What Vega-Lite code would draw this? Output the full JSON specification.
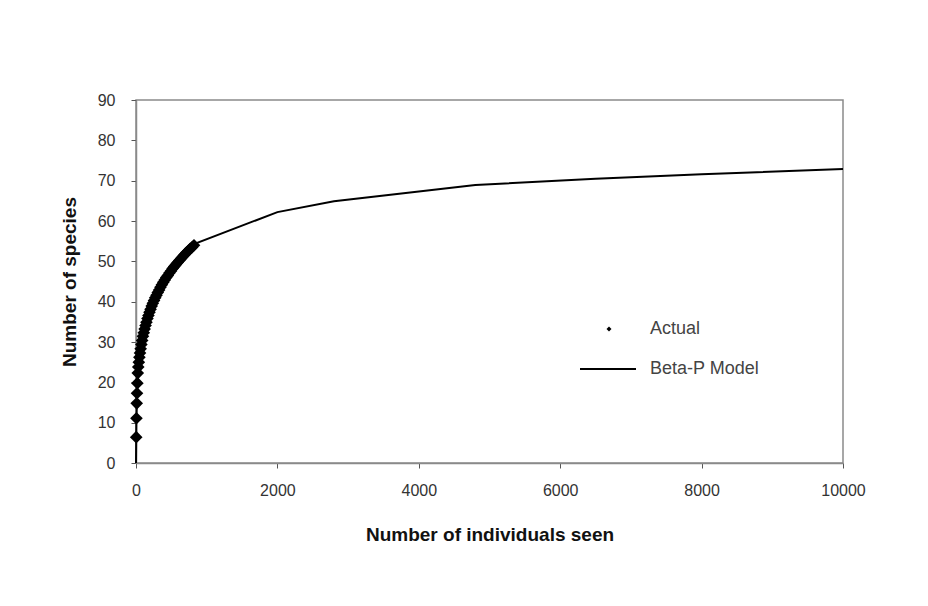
{
  "$schema": "https://vega.github.io/schema/vega-lite/v6.json",
  "width": 707,
  "height": 363,
  "autosize": {"type": "none"},
  "padding": {"left": 136, "top": 100, "right": 85, "bottom": 143},
  "background": "white",
  "config": {
    "font": "Liberation Sans",
    "view": {"stroke": "#8a8a8a", "strokeWidth": 1.5},
    "axis": {
      "grid": false,
      "domainColor": "#8a8a8a",
      "domainWidth": 1.5,
      "tickColor": "#555555",
      "tickSize": 5,
      "labelFont": "Liberation Sans",
      "labelFontSize": 16,
      "labelColor": "#333333",
      "titleFont": "Liberation Sans",
      "titleFontSize": 19,
      "titleFontWeight": "bold",
      "titleColor": "#111111"
    },
    "legend": {
      "labelFont": "Liberation Sans",
      "labelFontSize": 18,
      "labelColor": "#444444",
      "padding": 0
    }
  },
  "datasets": {
    "actual": [
      {"n": 3, "species": 6.4, "series": "Actual"},
      {"n": 6, "species": 11.1, "series": "Actual"},
      {"n": 10, "species": 14.8, "series": "Actual"},
      {"n": 14, "species": 17.3, "series": "Actual"},
      {"n": 19, "species": 19.8, "series": "Actual"},
      {"n": 25, "species": 22.3, "series": "Actual"},
      {"n": 32, "species": 23.8, "series": "Actual"},
      {"n": 40, "species": 25.0, "series": "Actual"},
      {"n": 48, "species": 26.2, "series": "Actual"},
      {"n": 57, "species": 27.3, "series": "Actual"},
      {"n": 66, "species": 28.3, "series": "Actual"},
      {"n": 76, "species": 29.4, "series": "Actual"},
      {"n": 87, "species": 30.4, "series": "Actual"},
      {"n": 98, "species": 31.4, "series": "Actual"},
      {"n": 110, "species": 32.3, "series": "Actual"},
      {"n": 122, "species": 33.2, "series": "Actual"},
      {"n": 135, "species": 34.1, "series": "Actual"},
      {"n": 148, "species": 34.9, "series": "Actual"},
      {"n": 162, "species": 35.8, "series": "Actual"},
      {"n": 176, "species": 36.6, "series": "Actual"},
      {"n": 191, "species": 37.4, "series": "Actual"},
      {"n": 206, "species": 38.1, "series": "Actual"},
      {"n": 222, "species": 38.9, "series": "Actual"},
      {"n": 238, "species": 39.6, "series": "Actual"},
      {"n": 255, "species": 40.3, "series": "Actual"},
      {"n": 272, "species": 41.0, "series": "Actual"},
      {"n": 290, "species": 41.6, "series": "Actual"},
      {"n": 308, "species": 42.3, "series": "Actual"},
      {"n": 327, "species": 42.9, "series": "Actual"},
      {"n": 346, "species": 43.6, "series": "Actual"},
      {"n": 366, "species": 44.2, "series": "Actual"},
      {"n": 386, "species": 44.8, "series": "Actual"},
      {"n": 407, "species": 45.4, "series": "Actual"},
      {"n": 428, "species": 46.0, "series": "Actual"},
      {"n": 450, "species": 46.5, "series": "Actual"},
      {"n": 472, "species": 47.1, "series": "Actual"},
      {"n": 495, "species": 47.6, "series": "Actual"},
      {"n": 518, "species": 48.2, "series": "Actual"},
      {"n": 541, "species": 48.7, "series": "Actual"},
      {"n": 565, "species": 49.2, "series": "Actual"},
      {"n": 589, "species": 49.7, "series": "Actual"},
      {"n": 613, "species": 50.2, "series": "Actual"},
      {"n": 638, "species": 50.7, "series": "Actual"},
      {"n": 663, "species": 51.2, "series": "Actual"},
      {"n": 688, "species": 51.7, "series": "Actual"},
      {"n": 714, "species": 52.2, "series": "Actual"},
      {"n": 740, "species": 52.6, "series": "Actual"},
      {"n": 766, "species": 53.1, "series": "Actual"},
      {"n": 793, "species": 53.5, "series": "Actual"},
      {"n": 820, "species": 54.0, "series": "Actual"}
    ],
    "model": [
      {"n": 0, "species": 0, "series": "Beta-P Model"},
      {"n": 5, "species": 10, "series": "Beta-P Model"},
      {"n": 15, "species": 17, "series": "Beta-P Model"},
      {"n": 30, "species": 23.5, "series": "Beta-P Model"},
      {"n": 60, "species": 27.8, "series": "Beta-P Model"},
      {"n": 100, "species": 31.5, "series": "Beta-P Model"},
      {"n": 150, "species": 35, "series": "Beta-P Model"},
      {"n": 200, "species": 37.8, "series": "Beta-P Model"},
      {"n": 300, "species": 41.8, "series": "Beta-P Model"},
      {"n": 400, "species": 45, "series": "Beta-P Model"},
      {"n": 500, "species": 47.7, "series": "Beta-P Model"},
      {"n": 600, "species": 50, "series": "Beta-P Model"},
      {"n": 700, "species": 52, "series": "Beta-P Model"},
      {"n": 820, "species": 54.3, "series": "Beta-P Model"},
      {"n": 2000, "species": 62.2, "series": "Beta-P Model"},
      {"n": 2800, "species": 64.9, "series": "Beta-P Model"},
      {"n": 4800, "species": 68.9, "series": "Beta-P Model"},
      {"n": 6500, "species": 70.5, "series": "Beta-P Model"},
      {"n": 8000, "species": 71.6, "series": "Beta-P Model"},
      {"n": 10000, "species": 72.9, "series": "Beta-P Model"}
    ]
  },
  "encoding": {
    "x": {
      "field": "n",
      "type": "quantitative",
      "scale": {"domain": [0, 10000], "nice": false},
      "axis": {
        "title": "Number of individuals seen",
        "values": [0, 2000, 4000, 6000, 8000, 10000],
        "format": "d",
        "labelPadding": 14,
        "titlePadding": 27,
        "labelFlush": false
      }
    },
    "y": {
      "field": "species",
      "type": "quantitative",
      "scale": {"domain": [0, 90], "nice": false},
      "axis": {
        "title": "Number of species",
        "values": [0, 10, 20, 30, 40, 50, 60, 70, 80, 90],
        "labelPadding": 16,
        "titlePadding": 18
      }
    }
  },
  "layer": [
    {
      "data": {"name": "model"},
      "mark": {"type": "line", "strokeWidth": 2, "interpolate": "linear"},
      "encoding": {
        "stroke": {
          "field": "series",
          "type": "nominal",
          "scale": {"range": ["black"]},
          "legend": {
            "title": null,
            "orient": "none",
            "legendX": 443,
            "legendY": 240,
            "symbolType": "stroke",
            "symbolSize": 3136,
            "symbolStrokeWidth": 2,
            "symbolStrokeColor": "black",
            "labelOffset": 13
          }
        }
      }
    },
    {
      "data": {"name": "actual"},
      "mark": {"type": "point", "filled": true, "size": 160, "opacity": 1},
      "encoding": {
        "shape": {
          "field": "series",
          "type": "nominal",
          "scale": {"range": ["diamond"]},
          "legend": {
            "title": null,
            "orient": "none",
            "legendX": 464,
            "legendY": 220,
            "symbolType": "circle",
            "symbolSize": 25,
            "symbolFillColor": "black",
            "symbolStrokeColor": "black",
            "symbolStrokeWidth": 1,
            "symbolOpacity": 1,
            "labelOffset": 32
          }
        },
        "color": {"value": "black"}
      }
    }
  ]
}
